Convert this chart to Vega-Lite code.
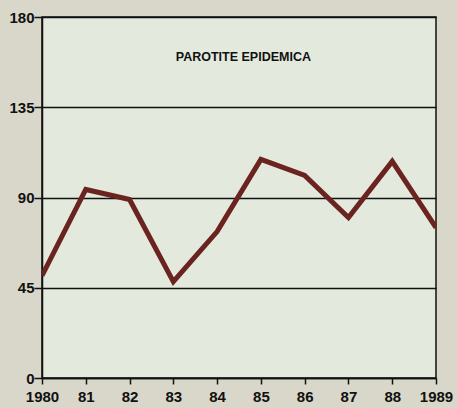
{
  "$schema": "https://vega.github.io/schema/vega-lite/v6.json",
  "width": 394,
  "height": 361,
  "autosize": {"type": "none"},
  "padding": {"left": 42, "top": 17, "right": 21, "bottom": 30},
  "background": "#d9d7c9",
  "view": {"fill": "#e3e9dd", "stroke": "#111111", "strokeWidth": 1.5},
  "config": {"font": "Arial, Liberation Sans, sans-serif"},
  "datasets": {
    "series": [
      {"year": 1980, "cases": 51},
      {"year": 1981, "cases": 94},
      {"year": 1982, "cases": 89},
      {"year": 1983, "cases": 48},
      {"year": 1984, "cases": 73},
      {"year": 1985, "cases": 109},
      {"year": 1986, "cases": 101},
      {"year": 1987, "cases": 80},
      {"year": 1988, "cases": 108},
      {"year": 1989, "cases": 75}
    ],
    "label": [
      {"year": 1984.6, "cases": 160, "text": "PAROTITE EPIDEMICA"}
    ]
  },
  "layer": [
    {
      "data": {"name": "series"},
      "mark": {"type": "line", "color": "#6b2320", "strokeWidth": 5, "strokeJoin": "miter", "clip": true},
      "encoding": {
        "x": {
          "field": "year", "type": "quantitative",
          "scale": {"domain": [1980, 1989], "nice": false, "zero": false},
          "axis": {
            "title": null, "values": [1980,1981,1982,1983,1984,1985,1986,1987,1988,1989],
            "labelExpr": "(datum.value == 1980 || datum.value == 1989) ? datum.value + '' : substring(datum.value + '', 2, 4)",
            "grid": false, "domainColor": "#111111", "domainWidth": 1.5,
            "tickColor": "#111111", "tickWidth": 1.5, "tickSize": 6,
            "labelColor": "#111111", "labelFont": "Arial, Liberation Sans, sans-serif", "labelFontSize": 15, "labelFontWeight": "bold",
            "labelPadding": 5, "labelFlush": false
          }
        },
        "y": {
          "field": "cases", "type": "quantitative",
          "scale": {"domain": [0, 180], "nice": false},
          "axis": {
            "title": null, "values": [0, 45, 90, 135, 180],
            "grid": true, "gridColor": "#111111", "gridWidth": 1.5, "gridOpacity": 1,
            "domainColor": "#111111", "domainWidth": 1.5,
            "tickColor": "#111111", "tickWidth": 1.5, "tickSize": 8,
            "labelColor": "#111111", "labelFont": "Arial, Liberation Sans, sans-serif", "labelFontSize": 15, "labelFontWeight": "bold",
            "labelPadding": 0, "labelFlush": false
          }
        }
      }
    },
    {
      "data": {"name": "label"},
      "mark": {"type": "text", "font": "Arial, Liberation Sans, sans-serif", "fontSize": 12.5, "fontWeight": "bold", "color": "#111111", "align": "center", "baseline": "middle"},
      "encoding": {
        "x": {"field": "year", "type": "quantitative"},
        "y": {"field": "cases", "type": "quantitative"},
        "text": {"field": "text"}
      }
    }
  ]
}
